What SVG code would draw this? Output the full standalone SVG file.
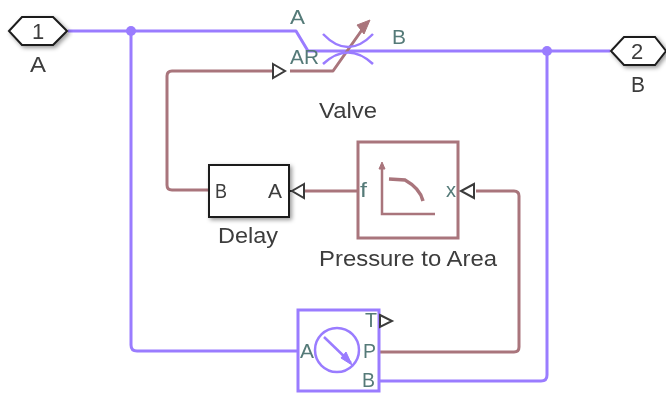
<svg xmlns="http://www.w3.org/2000/svg" width="666" height="393" viewBox="0 0 666 393">
<defs>
<filter id="sh" x="-20%" y="-20%" width="150%" height="150%"><feDropShadow dx="2" dy="2" stdDeviation="2" flood-color="#000" flood-opacity="0.4"/></filter>
<filter id="b" x="-10%" y="-10%" width="120%" height="120%"><feGaussianBlur stdDeviation="0.5"/></filter>
</defs>
<style>
text{font-family:"Liberation Sans",Arial,sans-serif;font-size:22px;fill:#3c3c3c}
.p{fill:#547a78;font-size:20px}
.ph{fill:none;stroke:#9a7cff;stroke-width:3;stroke-linejoin:round}
.sg{fill:none;stroke:#a9757c;stroke-width:3;stroke-linejoin:round}
.tri{fill:#fff;stroke:#3a3a3a;stroke-width:2}
.bk{fill:#fff;stroke:#1c1c1c;stroke-width:2}
</style>
<rect width="666" height="393" fill="#fff"/>
<g id="connectors" filter="url(#b)">
<path class="ph" d="M68 31H296L308 51H610"/>
<path class="ph" d="M131 31V345Q131 351 137 351H297"/>
<path class="ph" d="M547 51V375Q547 381 541 381H379"/>
<circle cx="131" cy="31" r="5" fill="#9a7cff"/>
<circle cx="547" cy="51" r="5" fill="#9a7cff"/>
<path class="sg" d="M272 71H172Q167 71 167 76V185Q167 190 172 190H208"/>
<path class="sg" d="M358 191H305"/>
<path class="sg" d="M476 191H514Q519 191 519 196V347Q519 352 514 352H379"/>
</g>
<g id="valve" filter="url(#b)">
<path class="sg" d="M290 71H333L364 27"/>
<path d="M370 20L357 25L364 34Z" fill="#a9757c" stroke="#a9757c"/>
<path class="ph" d="M323 34Q348 60 373 34M323 64Q348 41 373 64" style="stroke-width:2.5"/>
<path class="tri" d="M273 64L285 71L273 78Z"/>
<text class="p" x="290" y="24" textLength="15" lengthAdjust="spacingAndGlyphs">A</text>
<text class="p" x="290" y="64" textLength="29" lengthAdjust="spacingAndGlyphs">AR</text>
<text class="p" x="392" y="44" textLength="14" lengthAdjust="spacingAndGlyphs">B</text>
<text x="319" y="118" textLength="58" lengthAdjust="spacingAndGlyphs">Valve</text>
</g>
<g id="port-a" filter="url(#b)">
<path class="bk" d="M9 31L22 17H53L67 31L53 45H22Z" filter="url(#sh)"/>
<text x="38" y="38.500" text-anchor="middle">1</text>
<text x="30" y="72" textLength="16" lengthAdjust="spacingAndGlyphs">A</text>
</g>
<g id="port-b" filter="url(#b)">
<path class="bk" d="M611 51L624 37H655L666 51L655 65H624Z" filter="url(#sh)"/>
<text x="637" y="58.500" text-anchor="middle">2</text>
<text x="631" y="92" textLength="14" lengthAdjust="spacingAndGlyphs">B</text>
</g>
<g id="delay" filter="url(#b)">
<rect class="bk" x="209" y="165" width="80" height="52" filter="url(#sh)"/>
<text x="215" y="198" textLength="12" lengthAdjust="spacingAndGlyphs" style="font-size:20px">B</text>
<text x="268" y="198" textLength="14" lengthAdjust="spacingAndGlyphs" style="font-size:20px">A</text>
<path d="M289 191H292" stroke="#1c1c1c" stroke-width="2"/>
<path class="tri" d="M304 184L292 191L304 198Z"/>
<text x="218" y="243" textLength="60" lengthAdjust="spacingAndGlyphs">Delay</text>
</g>
<g id="pressure-to-area" filter="url(#b)">
<rect x="358" y="142" width="100" height="96" fill="#fff" stroke="#a9757c" stroke-width="3"/>
<path d="M382 166V214H435" fill="none" stroke="#a9757c" stroke-width="2.5"/>
<path d="M389 179L405 180C414 185 421 192 423 201" fill="none" stroke="#a9757c" stroke-width="3.5"/>
<path d="M379 169L382 162L385 169Z" fill="#a9757c" stroke="#a9757c"/>
<text class="p" x="360" y="197" textLength="7" lengthAdjust="spacingAndGlyphs">f</text>
<text class="p" x="446" y="197" textLength="10" lengthAdjust="spacingAndGlyphs">x</text>
<path class="tri" d="M474 184L461 191L474 198Z"/>
<text x="319" y="266" textLength="178" lengthAdjust="spacingAndGlyphs">Pressure to Area</text>
</g>
<g id="sensor" filter="url(#b)">
<rect x="298" y="310" width="81" height="81" fill="#fff" stroke="#9a7cff" stroke-width="3"/>
<circle cx="337" cy="350" r="22" fill="none" stroke="#9a7cff" stroke-width="2.5"/>
<path d="M324 337L351 363" stroke="#9a7cff" stroke-width="2.5"/>
<path d="M352 365L341 358L346 352Z" fill="#9a7cff" stroke="#9a7cff"/>
<text class="p" x="300" y="358" textLength="14" lengthAdjust="spacingAndGlyphs">A</text>
<text class="p" x="365" y="327" textLength="12" lengthAdjust="spacingAndGlyphs">T</text>
<text class="p" x="363" y="358" textLength="13" lengthAdjust="spacingAndGlyphs">P</text>
<text class="p" x="362" y="387" textLength="13" lengthAdjust="spacingAndGlyphs">B</text>
<path class="tri" d="M380 315L392 321L380 327Z"/>
</g>
</svg>
